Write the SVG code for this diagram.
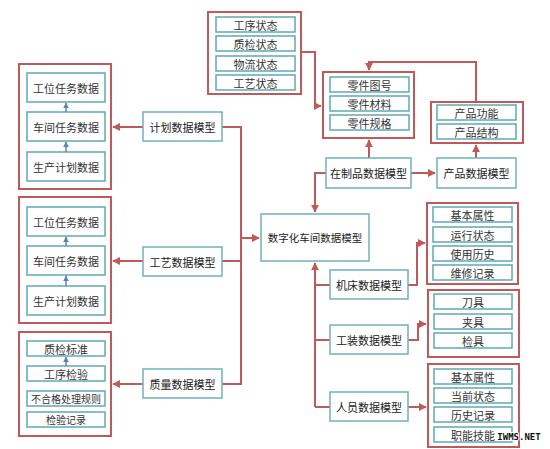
<svg xmlns="http://www.w3.org/2000/svg" width="550" height="449" viewBox="0 0 550 449">
<style>
.outer{fill:#fff;stroke:#c0595a;stroke-width:2}
.inner{fill:#fff;stroke:#5fa9b4;stroke-width:1.5}
.model{fill:#fff;stroke:#6fb1bb;stroke-width:1.5}
.t{font-family:"Noto Sans CJK SC","Noto Sans",sans-serif;font-size:11px;fill:#333;text-anchor:middle;dominant-baseline:central}
.tm{font-family:"Noto Sans CJK SC","Noto Sans",sans-serif;font-size:11px;fill:#222;text-anchor:middle;dominant-baseline:central}
.c{fill:none;stroke:#c0595a;stroke-width:2}
.b{fill:none;stroke:#5a83b8;stroke-width:1.5}
</style>
<defs>
<marker id="ar" viewBox="0 0 10 10" refX="9" refY="5" markerWidth="4" markerHeight="4" orient="auto"><path d="M0,0 L10,5 L0,10 z" fill="#c0595a"/></marker>
<marker id="ab" viewBox="0 0 10 10" refX="9" refY="5" markerWidth="4" markerHeight="4" orient="auto"><path d="M0,0 L10,5 L0,10 z" fill="#5a83b8"/></marker>
</defs>
<rect width="550" height="449" fill="#fff"/>
<g id="connectors">
<path class="c" d="M143,127 H113" marker-end="url(#ar)"/>
<path class="c" d="M143,261 H113" marker-end="url(#ar)"/>
<path class="c" d="M143,384 H113" marker-end="url(#ar)"/>
<path class="c" d="M222,127 H241 V384 H222"/>
<path class="c" d="M222,261 H241"/>
<path class="c" d="M241,238 H259" marker-end="url(#ar)"/>
<path class="c" d="M301,52 H315 V106 H321" marker-end="url(#ar)"/>
<path class="c" d="M476,102 V62 H369 V70" marker-end="url(#ar)"/>
<path class="c" d="M369,158 V140" marker-end="url(#ar)"/>
<path class="c" d="M411,173 H435" marker-end="url(#ar)"/>
<path class="c" d="M476,158 V145" marker-end="url(#ar)"/>
<path class="c" d="M326,173 H315 V212" marker-end="url(#ar)"/>
<path class="c" d="M315,407 V263" marker-end="url(#ar)"/>
<path class="c" d="M330,285 H315 M330,340 H315 M330,407 H315"/>
<path class="c" d="M408,285 H417 V243 H425" marker-end="url(#ar)"/>
<path class="c" d="M408,340 H418 V324 H426" marker-end="url(#ar)"/>
<path class="c" d="M408,407 H426" marker-end="url(#ar)"/>
</g>
<g id="plan-data">
<rect class="outer" x="19" y="64" width="92" height="125"/>
<rect class="inner" x="27" y="73" width="78" height="29"/><text class="t" x="66" y="87.5">工位任务数据</text>
<rect class="inner" x="27" y="112" width="78" height="29"/><text class="t" x="66" y="126.5">车间任务数据</text>
<rect class="inner" x="27" y="152" width="78" height="29"/><text class="t" x="66" y="166.5">生产计划数据</text>
</g>
<g id="plan-model"><rect class="model" x="143" y="112" width="79" height="29"/><text class="tm" x="182.5" y="126.5">计划数据模型</text></g>
<g id="craft-data">
<rect class="outer" x="19" y="197" width="92" height="126"/>
<rect class="inner" x="27" y="207" width="78" height="29"/><text class="t" x="66" y="221.5">工位任务数据</text>
<rect class="inner" x="27" y="246" width="78" height="29"/><text class="t" x="66" y="260.5">车间任务数据</text>
<rect class="inner" x="27" y="286" width="78" height="29"/><text class="t" x="66" y="300.5">生产计划数据</text>
</g>
<g id="craft-model"><rect class="model" x="143" y="247" width="79" height="29"/><text class="tm" x="182.5" y="261.5">工艺数据模型</text></g>
<g id="quality-data">
<rect class="outer" x="19" y="332" width="92" height="104"/>
<rect class="inner" x="27" y="341" width="78" height="15"/><text class="t" x="66" y="348.5">质检标准</text>
<rect class="inner" x="27" y="366" width="78" height="15"/><text class="t" x="66" y="373.5">工序检验</text>
<rect class="inner" x="27" y="391" width="78" height="15"/><text class="t" x="66" y="398.5" style="font-size:10px">不合格处理规则</text>
<rect class="inner" x="27" y="412" width="78" height="15"/><text class="t" x="66" y="419.5" style="font-size:10px">检验记录</text>
</g>
<g id="inner-arrows">
<path class="b" d="M66,112 V103" marker-end="url(#ab)"/>
<path class="b" d="M66,152 V142" marker-end="url(#ab)"/>
<path class="b" d="M66,246 V237" marker-end="url(#ab)"/>
<path class="b" d="M66,286 V276" marker-end="url(#ab)"/>
<path class="b" d="M66,366 V357" marker-end="url(#ab)"/>
</g>
<g id="quality-model"><rect class="model" x="143" y="369" width="79" height="29"/><text class="tm" x="182.5" y="383.5">质量数据模型</text></g>
<g id="central"><rect class="model" x="261" y="214" width="108" height="47"/><text class="tm" x="315" y="237.5" style="font-size:10.5px">数字化车间数据模型</text></g>
<g id="status-data">
<rect class="outer" x="208" y="12" width="93" height="82"/>
<rect class="inner" x="216" y="17" width="79" height="15"/><text class="t" x="255.5" y="24.5">工序状态</text>
<rect class="inner" x="216" y="36" width="79" height="15"/><text class="t" x="255.5" y="43.5">质检状态</text>
<rect class="inner" x="216" y="56" width="79" height="15"/><text class="t" x="255.5" y="63.5">物流状态</text>
<rect class="inner" x="216" y="75" width="79" height="15"/><text class="t" x="255.5" y="82.5">工艺状态</text>
</g>
<g id="part-data">
<rect class="outer" x="323" y="72" width="91" height="66"/>
<rect class="inner" x="330" y="77" width="79" height="15"/><text class="t" x="369.5" y="84.5">零件图号</text>
<rect class="inner" x="330" y="96" width="79" height="15"/><text class="t" x="369.5" y="103.5">零件材料</text>
<rect class="inner" x="330" y="115" width="79" height="15"/><text class="t" x="369.5" y="122.5">零件规格</text>
</g>
<g id="product-data">
<rect class="outer" x="431" y="102" width="92" height="41"/>
<rect class="inner" x="437" y="105" width="79" height="15"/><text class="t" x="476.5" y="112.5">产品功能</text>
<rect class="inner" x="437" y="124" width="79" height="15"/><text class="t" x="476.5" y="131.5">产品结构</text>
</g>
<g id="wip-model"><rect class="model" x="326" y="158" width="85" height="30"/><text class="tm" x="368.5" y="173">在制品数据模型</text></g>
<g id="product-model"><rect class="model" x="437" y="158" width="79" height="30"/><text class="tm" x="476.5" y="173">产品数据模型</text></g>
<g id="machine-model"><rect class="model" x="330" y="270" width="78" height="29"/><text class="tm" x="369" y="284.5">机床数据模型</text></g>
<g id="machine-data">
<rect class="outer" x="427" y="203" width="91" height="81"/>
<rect class="inner" x="433" y="207" width="79" height="15"/><text class="t" x="472.5" y="214.5">基本属性</text>
<rect class="inner" x="433" y="227" width="79" height="15"/><text class="t" x="472.5" y="234.5">运行状态</text>
<rect class="inner" x="433" y="246" width="79" height="15"/><text class="t" x="472.5" y="253.5">使用历史</text>
<rect class="inner" x="433" y="265" width="79" height="15"/><text class="t" x="472.5" y="272.5">维修记录</text>
</g>
<g id="tooling-model"><rect class="model" x="330" y="325" width="78" height="29"/><text class="tm" x="369" y="339.5">工装数据模型</text></g>
<g id="tooling-data">
<rect class="outer" x="428" y="290" width="91" height="67"/>
<rect class="inner" x="434" y="294" width="78" height="15"/><text class="t" x="473" y="301.5">刀具</text>
<rect class="inner" x="434" y="314" width="78" height="15"/><text class="t" x="473" y="321.5">夹具</text>
<rect class="inner" x="434" y="333" width="78" height="15"/><text class="t" x="473" y="340.5">检具</text>
</g>
<g id="person-model"><rect class="model" x="330" y="392" width="78" height="29"/><text class="tm" x="369" y="406.5">人员数据模型</text></g>
<g id="person-data">
<rect class="outer" x="428" y="364" width="91" height="83"/>
<rect class="inner" x="434" y="369" width="78" height="15"/><text class="t" x="473" y="376.5">基本属性</text>
<rect class="inner" x="434" y="388" width="78" height="15"/><text class="t" x="473" y="395.5">当前状态</text>
<rect class="inner" x="434" y="407" width="78" height="15"/><text class="t" x="473" y="414.5">历史记录</text>
<rect class="inner" x="434" y="427" width="78" height="15"/><text class="t" x="473" y="434.5">职能技能</text>
</g>
<text x="519" y="437" style="font-family:'DejaVu Sans Mono',monospace;font-size:9px;font-weight:bold;fill:#111;text-anchor:middle;dominant-baseline:central;stroke:#fff;stroke-width:2;paint-order:stroke">IWMS.NET</text>
</svg>
